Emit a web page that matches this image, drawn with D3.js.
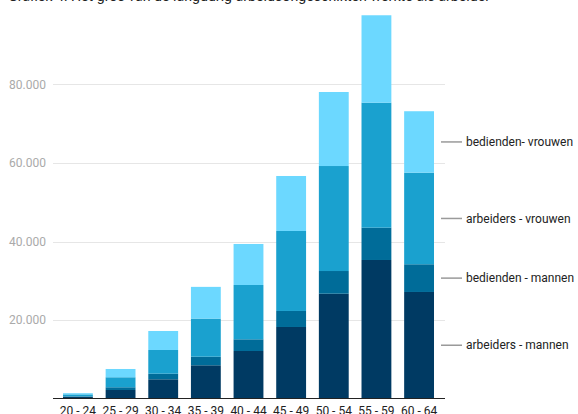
<!DOCTYPE html>
<html><head><meta charset="utf-8">
<script src="https://cdn.jsdelivr.net/npm/d3@7"></script>
<style>html,body{margin:0;padding:0;background:#fff;overflow:hidden}svg{display:block;font-family:Roboto,"Noto Sans",sans-serif}</style>
</head><body><svg id="c" width="578" height="414"></svg>
<script>
const title = "Grafiek 4: Het gros van de langdurig arbeidsongeschikten werkte als arbeider";
const categories = ["20 - 24","25 - 29","30 - 34","35 - 39","40 - 44","45 - 49","50 - 54","55 - 59","60 - 64"];
const arbeidersMannen  = [450, 2170, 4890, 8460, 12100, 18220, 26700, 35290, 27140];
const bediendenMannen  = [100, 690, 1430, 2190, 2980, 4080, 5780, 8230, 7060];
const arbeidersVrouwen = [500, 2550, 6040, 9710, 13840, 20380, 26750, 31850, 23340];
const bediendenVrouwen = [300, 2110, 4840, 8080, 10450, 14010, 18860, 22270, 15650];
const seriesNames = ["arbeiders - mannen","bedienden - mannen","arbeiders - vrouwen","bedienden- vrouwen"];
const seriesColors = ["#003a63","#006c99","#1aa1cf","#6cd8ff"];
const yTicks = [20000, 40000, 60000, 80000];

const svg = d3.select("#c");
const series = [arbeidersMannen, bediendenMannen, arbeidersVrouwen, bediendenVrouwen];
const rows = categories.map((c,i)=>{const r={cat:c}; seriesNames.forEach((n,j)=>r[n]=series[j][i]); return r;});
const stacked = d3.stack().keys(seriesNames)(rows);

const x = d3.scaleBand().domain(categories).range([56.6, 440.4]).paddingInner(0.3).paddingOuter(0.15);
const y = d3.scaleLinear().domain([0, 100000]).range([398.5, 6]);

// title (cropped at top, as in the reference)
svg.append("text").attr("x", 8).attr("y", 1).attr("font-size", 15).attr("fill", "#222")
  .attr("textLength", 482).attr("lengthAdjust","spacingAndGlyphs").text(title);

// grid
const fmt = d => d3.format(",")(d).replace(/,/g, ".");
const g = svg.append("g");
g.selectAll("line.grid").data(yTicks).join("line")
  .attr("x1", 53).attr("x2", 445).attr("y1", d=>Math.round(y(d))+0.5).attr("y2", d=>Math.round(y(d))+0.5)
  .attr("stroke", "#e6e6e6").attr("stroke-width", 1);
g.selectAll("text.yl").data(yTicks).join("text")
  .attr("x", 46).attr("y", d=>y(d)).attr("dy","0.35em").attr("text-anchor","end")
  .attr("font-size", 12).attr("fill", "#aaa").text(fmt);

// bars
svg.append("g").selectAll("g").data(stacked).join("g")
  .attr("fill", (d,i)=>seriesColors[i])
  .selectAll("rect").data(d=>d).join("rect")
  .attr("x", d=>x(d.data.cat)).attr("width", x.bandwidth())
  .attr("y", d=>y(d[1])).attr("height", d=>y(d[0])-y(d[1]));

// baseline
svg.append("line").attr("x1",53).attr("x2",445).attr("y1",398.5).attr("y2",398.5).attr("stroke","#222").attr("stroke-width",1);

// x labels
svg.append("g").selectAll("text").data(categories).join("text")
  .attr("x", d=>x(d)+x.bandwidth()/2).attr("y", 415).attr("text-anchor","middle")
  .attr("font-size", 12).attr("fill","#222").text(d=>d);

// legend labels at last bar segment midpoints
const last = categories.length-1;
const lg = svg.append("g");
stacked.forEach((s,i)=>{
  const ym = (y(s[last][0]) + y(s[last][1]))/2;
  lg.append("line").attr("x1", 441).attr("x2", 462).attr("y1", ym).attr("y2", ym).attr("stroke","#9a9a9a").attr("stroke-width",1.5);
  lg.append("text").attr("x", 466).attr("y", ym).attr("dy","0.35em").attr("font-size",12).attr("fill","#222").text(seriesNames[i]);
});
</script></body></html>
